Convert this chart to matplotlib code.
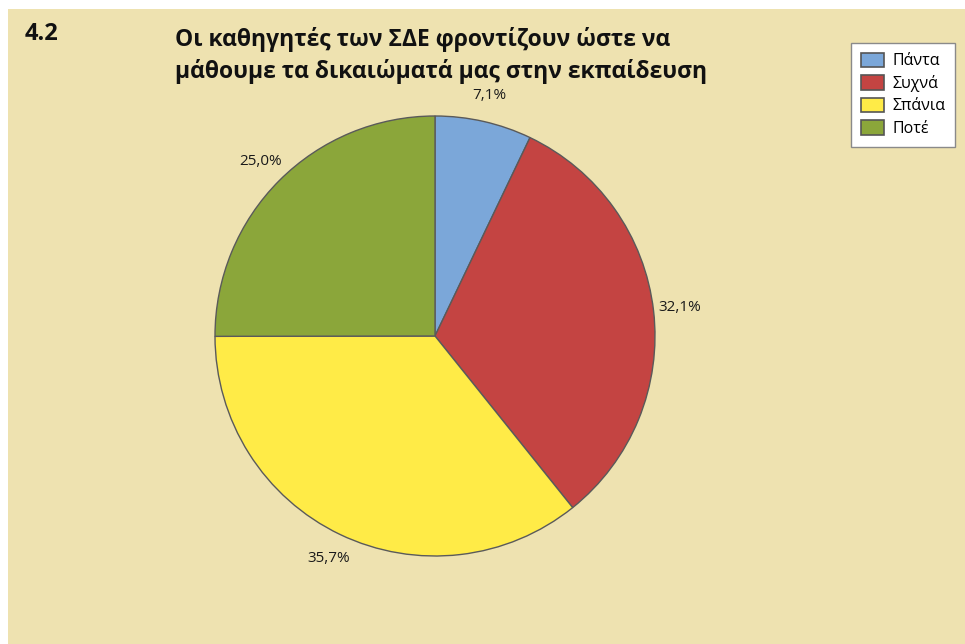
import matplotlib.pyplot as plt
from matplotlib.patches import Rectangle

# answers to question 4.2 (percent of pupils)
labels = ["Πάντα", "Συχνά", "Σπάνια", "Ποτέ"]
percents = [7.1, 32.1, 35.7, 25.0]
colors = ["#7BA7D9", "#C44442", "#FFEB47", "#8BA63A"]

bg = "#EEE2B0"
W, H = 965, 644

fig = plt.figure(figsize=(W / 100, H / 100), dpi=100)
fig.patch.set_facecolor("white")
# beige panel, white strip along the top and left
fig.add_artist(Rectangle((8 / W, 0), 1, 1 - 9 / H, transform=fig.transFigure,
                         facecolor=bg, edgecolor="none", zorder=0))

ax = fig.add_axes([0, 0, 1, 1])

wedges, texts, pcts = ax.pie(
    percents, colors=colors, startangle=90, counterclock=False,
    center=(435, H - 336), radius=220, frame=True,
    autopct=lambda p: f"{p:.1f}%".replace(".", ","), pctdistance=1.12,
    wedgeprops=dict(edgecolor="#5a5a5a", linewidth=1.0),
    textprops=dict(fontsize=11, color="#1a1a1a", family="Open Sans"))
ax.set_xlim(0, W)
ax.set_ylim(0, H)
ax.set_aspect("equal")
ax.axis("off")

fig.text(25 / W, 1 - 34 / H, "4.2", fontsize=17, fontweight="bold",
         family="Open Sans", va="center", ha="left", color="#111111")
fig.text(175 / W, 1 - 55.5 / H,
         "Οι καθηγητές των ΣΔΕ φροντίζουν ώστε να\nμάθουμε τα δικαιώματά μας στην εκπαίδευση",
         fontsize=16.5, fontweight="bold", family="Open Sans", ha="left",
         va="center", linespacing=1.4, color="#111111")

leg = fig.legend(wedges, labels, loc="upper left",
                 bbox_to_anchor=(851 / W, 1 - 43 / H), frameon=True,
                 fancybox=False, framealpha=1,
                 prop=dict(family="Open Sans", size=11.5),
                 handlelength=1.45, handleheight=1.05, handletextpad=0.55,
                 labelspacing=0.35, borderpad=0.6, borderaxespad=0)
leg.get_frame().set_edgecolor("#8a8a8a")
leg.get_frame().set_linewidth(1.0)
for h in leg.legend_handles:
    h.set_edgecolor("#555555")
    h.set_linewidth(1.2)

fig.savefig("out.png", dpi=100, facecolor=fig.get_facecolor())
